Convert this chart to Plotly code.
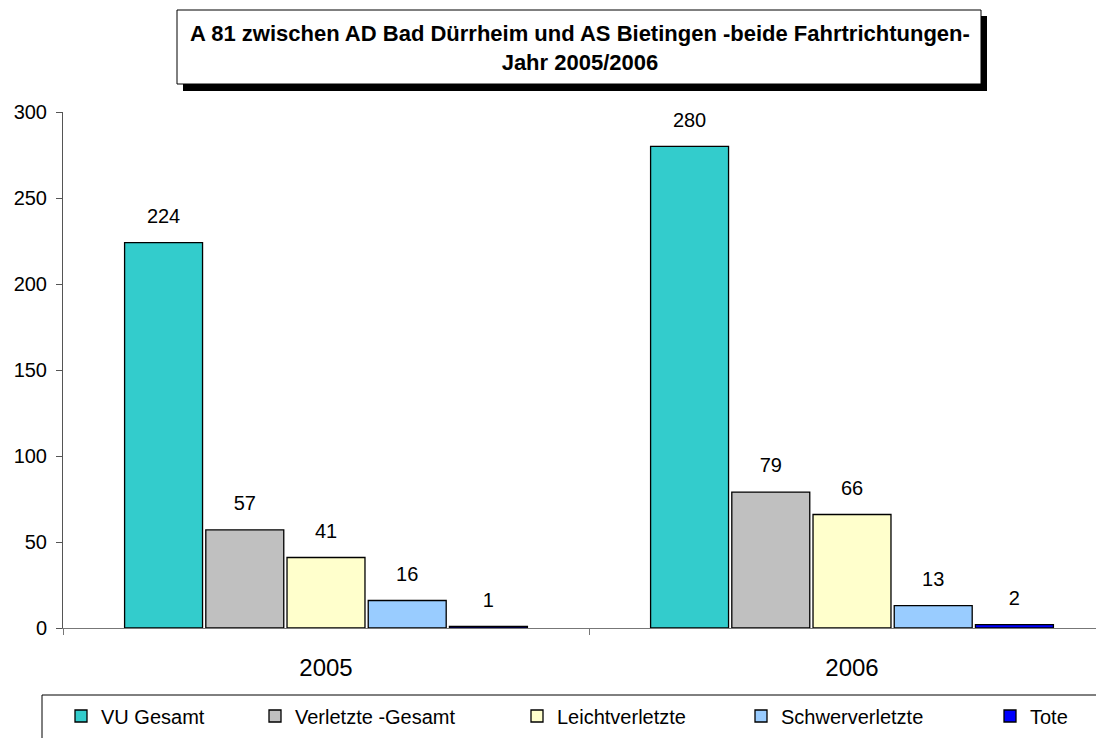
import plotly.graph_objects as go

years = ["2005", "2006"]
series_names = ["VU Gesamt", "Verletzte -Gesamt", "Leichtverletzte", "Schwerverletzte", "Tote"]
vu_gesamt = [224, 280]
verletzte_gesamt = [57, 79]
leichtverletzte = [41, 66]
schwerverletzte = [16, 13]
tote = [1, 2]
series_values = [vu_gesamt, verletzte_gesamt, leichtverletzte, schwerverletzte, tote]
colors = ["#33CCCC", "#C0C0C0", "#FFFFCC", "#99CCFF", "#0000FF"]

title_text = "A 81 zwischen AD Bad Dürrheim und AS Bietingen -beide Fahrtrichtungen-<br>Jahr 2005/2006"

# page body adds an 8px offset, so the layout is worked out in screen pixels
OFF = 8
W, H = 1104, 738
PLOT_L, PLOT_T, PLOT_B = 63, 112, 628          # plot area edges on screen
ML, MT, MR = PLOT_L - OFF, PLOT_T - OFF, 0
MB = H - (PLOT_B - OFF)
PW = W - ML - MR
PH = H - MT - MB
CAT_W = 526                                    # pixels per category


def px(x):
    return (x - PLOT_L) / PW


def py(y):
    return (PLOT_B - y) / PH


FONT = "Arial, Liberation Sans, sans-serif"
GAP = 0.228

fig = go.Figure()

legend_x = [83, 277, 539, 763, 1012]           # symbol centres on screen
legend_ids = ["legend", "legend2", "legend3", "legend4", "legend5"]

for name, vals, col, lid in zip(series_names, series_values, colors, legend_ids):
    fig.add_trace(
        go.Bar(
            x=years,
            y=vals,
            name=name,
            marker=dict(color=col, line=dict(color="black", width=1.3)),
            offsetgroup=name,
            legend=lid,
        )
    )

# value labels, grouped like the bars
for name, vals in zip(series_names, series_values):
    fig.add_trace(
        go.Scatter(
            x=years,
            y=vals,
            mode="markers+text",
            text=[str(v) for v in vals],
            textposition="top center",
            textfont=dict(family=FONT, size=20, color="black"),
            marker=dict(size=22, opacity=0),
            offsetgroup=name,
            showlegend=False,
            hoverinfo="skip",
        )
    )

# title box with shadow
fig.add_shape(type="rect", xref="paper", yref="paper",
              x0=px(183), x1=px(987), y0=py(91), y1=py(16),
              fillcolor="black", line=dict(width=0), layer="above")
fig.add_shape(type="rect", xref="paper", yref="paper",
              x0=px(177), x1=px(981), y0=py(84), y1=py(10),
              fillcolor="white", line=dict(color="black", width=1), layer="above")
fig.add_annotation(
    text=title_text, xref="paper", yref="paper",
    x=px(580), y=py(48), xanchor="center", yanchor="middle",
    showarrow=False, font=dict(family=FONT, size=22, color="black", weight="bold"),
)

# legend box
fig.add_shape(type="rect", xref="paper", yref="paper",
              x0=px(42), x1=px(1098), y0=py(760), y1=py(695),
              fillcolor="rgba(0,0,0,0)", line=dict(color="black", width=1))

fig.update_yaxes(
    range=[0, 300],
    dtick=50,
    showgrid=False,
    zeroline=False,
    showline=True,
    linecolor="#555555",
    linewidth=1,
    ticks="outside",
    ticklen=6,
    tickcolor="#555555",
    ticklabelstandoff=5,
    tickfont=dict(family=FONT, size=20, color="black"),
)

fig.update_xaxes(
    range=[-0.5, -0.5 + PW / CAT_W],
    showgrid=False,
    showline=True,
    linecolor="#777777",
    linewidth=1,
    ticks="outside",
    tickson="boundaries",
    ticklen=6,
    tickcolor="#777777",
    ticklabelstandoff=18,
    tickfont=dict(family=FONT, size=24, color="black"),
)

legends = {}
for lid, cx in zip(legend_ids, legend_x):
    legends[lid] = dict(
        orientation="h",
        x=px(cx - 22), y=py(716),
        xanchor="left", yanchor="middle",
        bgcolor="rgba(0,0,0,0)",
        borderwidth=0,
        font=dict(family=FONT, size=20, color="black"),
    )

fig.update_layout(
    width=W,
    height=H,
    margin=dict(l=ML, r=MR, t=MT, b=MB, autoexpand=False),
    barmode="group",
    bargap=GAP,
    bargroupgap=0.04,
    scattermode="group",
    scattergap=GAP,
    plot_bgcolor="white",
    paper_bgcolor="white",
    font=dict(family=FONT, size=20, color="black"),
    showlegend=True,
    hovermode=False,
    **legends,
)

fig.write_html("out.html")
